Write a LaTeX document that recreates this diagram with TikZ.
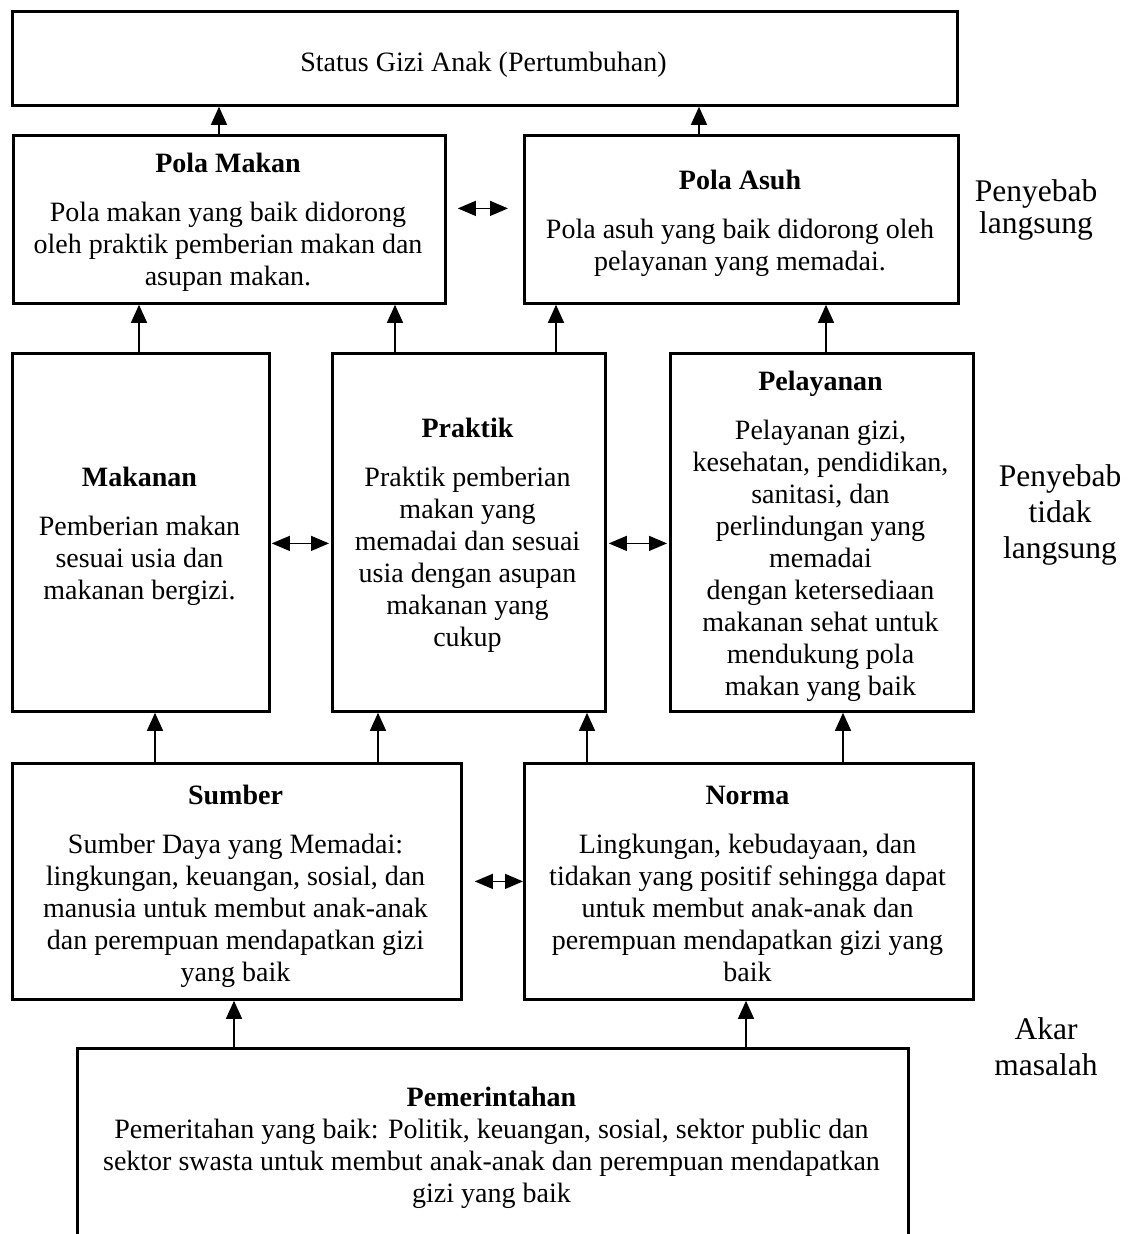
\documentclass[tikz,border=0pt]{standalone}
\usepackage{fontspec}
\setmainfont{Liberation Serif}
\usetikzlibrary{arrows.meta}
\begin{document}
\begin{tikzpicture}[x=1pt,y=-1pt,
  box/.style={draw, line width=2.8pt, inner sep=0pt, anchor=north west},
  txt/.style={align=center, inner sep=0pt, anchor=north, font=\fontsize{28}{32}\selectfont},
  lbl/.style={align=center, inner sep=0pt, anchor=north, font=\fontsize{31.5}{36}\selectfont},
  arr/.style={line width=1.3pt, -{Triangle[length=18pt,width=16pt]}},
  darr/.style={line width=1.3pt, {Triangle[length=18pt,width=15pt]}-{Triangle[length=18pt,width=15pt]}},
]
\useasboundingbox (0,0) rectangle (1136,1234);

% boxes
\node[box, minimum width=945pt, minimum height=94pt]  (status)    at (11,10)   {};
\node[box, minimum width=432pt, minimum height=168pt] (polamakan) at (12,134)  {};
\node[box, minimum width=434pt, minimum height=168pt] (polaasuh)  at (523,134) {};
\node[box, minimum width=257pt, minimum height=358pt] (makanan)   at (11,352)  {};
\node[box, minimum width=273pt, minimum height=358pt] (praktik)   at (331,352) {};
\node[box, minimum width=303pt, minimum height=358pt] (pelayanan) at (669,352) {};
\node[box, minimum width=449pt, minimum height=236pt] (sumber)    at (11,762)  {};
\node[box, minimum width=449pt, minimum height=236pt] (norma)     at (523,762) {};
\node[box, minimum width=831pt, minimum height=260pt] (pemerintahan) at (76,1047) {};

% texts
\node[txt] (statust) at (483.5,47) {\rule{0pt}{24pt}Status Gizi Anak (Pertumbuhan)};
\node[txt] (polamakant) at (228,148) {\rule{0pt}{24pt}\textbf{Pola Makan}\\[17pt]
  Pola makan yang baik didorong\\ oleh praktik pemberian makan dan\\ asupan makan.};
\node[txt] (polaasuht) at (740,165) {\rule{0pt}{24pt}\textbf{Pola Asuh}\\[17pt]
  Pola asuh yang baik didorong oleh\\ pelayanan yang memadai.};
\node[txt] (makanant) at (139.5,462) {\rule{0pt}{24pt}\textbf{Makanan}\\[17pt]
  Pemberian makan\\ sesuai usia dan\\ makanan bergizi.};
\node[txt] (praktikt) at (467.5,413) {\rule{0pt}{24pt}\textbf{Praktik}\\[17pt]
  Praktik pemberian\\ makan yang\\ memadai dan sesuai\\ usia dengan asupan\\ makanan yang\\ cukup};
\node[txt] (pelayanant) at (820.5,366) {\rule{0pt}{24pt}\textbf{Pelayanan}\\[17pt]
  Pelayanan gizi,\\ kesehatan, pendidikan,\\ sanitasi, dan\\ perlindungan yang\\ memadai\\
  dengan ketersediaan\\ makanan sehat untuk\\ mendukung pola\\ makan yang baik};
\node[txt] (sumbert) at (235.5,780) {\rule{0pt}{24pt}\textbf{Sumber}\\[17pt]
  Sumber Daya yang Memadai:\\ lingkungan, keuangan, sosial, dan\\ manusia untuk membut anak-anak\\
  dan perempuan mendapatkan gizi\\ yang baik};
\node[txt] (normat) at (747.5,780) {\rule{0pt}{24pt}\textbf{Norma}\\[17pt]
  Lingkungan, kebudayaan, dan\\ tidakan yang positif sehingga dapat\\ untuk membut anak-anak dan\\
  perempuan mendapatkan gizi yang\\ baik};
\node[txt] (pemerintahant) at (491.5,1082) {\rule{0pt}{24pt}\textbf{Pemerintahan}\\
  Pemeritahan yang baik: Politik, keuangan, sosial, sektor public dan\\
  sektor swasta untuk membut anak-anak dan perempuan mendapatkan\\ gizi yang baik};

% side labels
\node[lbl, font=\fontsize{31.5}{32}\selectfont] (lbl1) at (1036,175) {\rule{0pt}{26pt}Penyebab\\ langsung};
\node[lbl] (lbl2) at (1060,460) {\rule{0pt}{26pt}Penyebab\\ tidak\\ langsung};
\node[lbl] (lbl3) at (1046,1013) {\rule{0pt}{26pt}Akar\\ masalah};

% vertical arrows
\draw[arr] (219,0 |- polamakan.north) -- (219,0 |- status.south);
\draw[arr] (699,0 |- polaasuh.north) -- (699,0 |- status.south);
\draw[arr] (139,0 |- makanan.north) -- (139,0 |- polamakan.south);
\draw[arr] (395,0 |- praktik.north) -- (395,0 |- polamakan.south);
\draw[arr] (556,0 |- praktik.north) -- (556,0 |- polaasuh.south);
\draw[arr] (826,0 |- pelayanan.north) -- (826,0 |- polaasuh.south);
\draw[arr] (155,0 |- sumber.north) -- (155,0 |- makanan.south);
\draw[arr] (378,0 |- sumber.north) -- (378,0 |- praktik.south);
\draw[arr] (587,0 |- norma.north) -- (587,0 |- praktik.south);
\draw[arr] (843,0 |- norma.north) -- (843,0 |- pelayanan.south);
\draw[arr] (234,0 |- pemerintahan.north) -- (234,0 |- sumber.south);
\draw[arr] (746,0 |- pemerintahan.north) -- (746,0 |- norma.south);

% double arrows
\draw[darr] ([xshift=11pt,yshift=11pt]polamakan.east) -- ([xshift=-15pt,yshift=11pt]polaasuh.west);
\draw[darr] ([xshift=1pt,yshift=-11pt]makanan.east) -- ([xshift=-2pt,yshift=-11pt]praktik.west);
\draw[darr] ([xshift=2pt,yshift=-11pt]praktik.east) -- ([xshift=-2pt,yshift=-11pt]pelayanan.west);
\draw[darr] ([xshift=12pt]sumber.east) -- (norma.west);
\end{tikzpicture}
\end{document}
